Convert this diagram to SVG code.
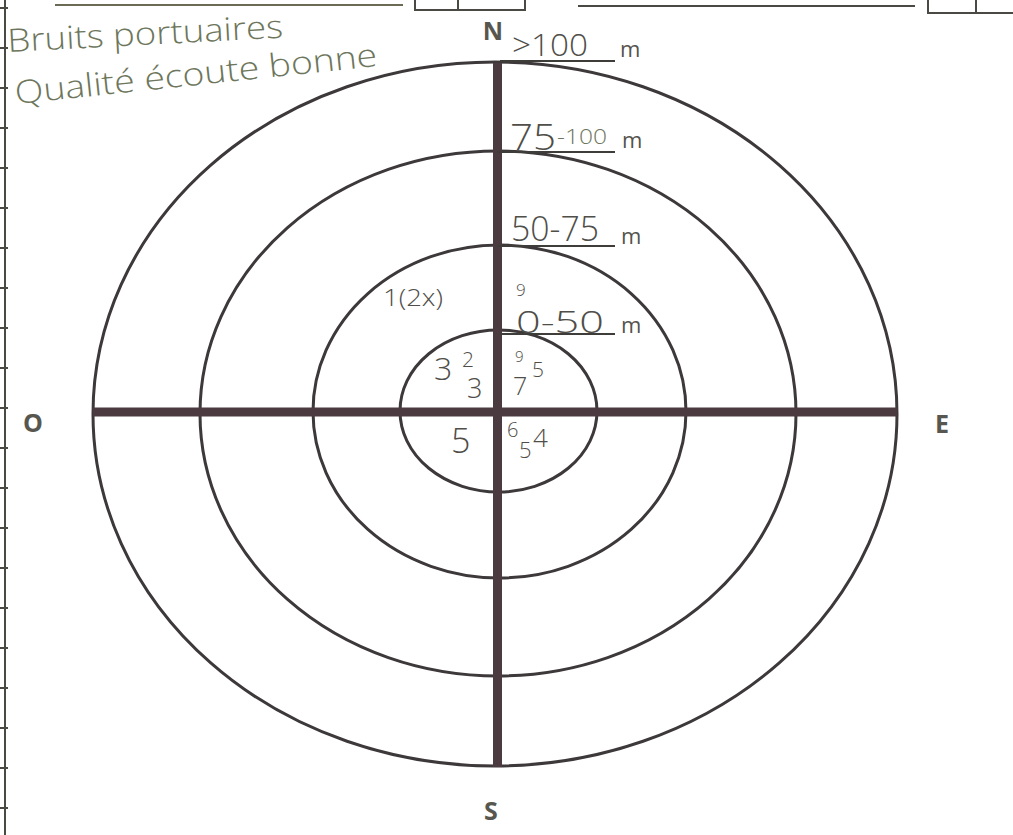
<svg xmlns="http://www.w3.org/2000/svg" width="1013" height="835" viewBox="0 0 1013 835">
<style>
.ring{fill:none;stroke:#3d3839;stroke-width:3}
.axis{stroke:#4b3a3f;stroke-width:9;fill:none}
.rule{stroke:#3f3d3a;stroke-width:2;fill:none}
.frame{stroke:#4a4944;stroke-width:2;fill:none}
.dir{font-family:"Open Sans","Liberation Sans",sans-serif;font-weight:bold;font-size:25px;fill:#58574f}
.unit{font-family:"Open Sans","Liberation Sans",sans-serif;font-size:22px;fill:#55544e}
.hand{font-family:"Open Sans","DejaVu Sans",sans-serif;fill:#4f4e49;font-weight:300}
.green{font-family:"Open Sans","DejaVu Sans",sans-serif;fill:#6d765c;font-weight:300}
</style>
<rect width="1013" height="835" fill="#ffffff"/>
<g id="frame">
<line class="frame" x1="5" y1="0" x2="5" y2="835"/>
<path class="frame" d="M0 8H8M0 48H8M0 88H8M0 128H8M0 168H8M0 208H8M0 248H8M0 288H8M0 328H8M0 368H8M0 408H8M0 448H8M0 488H8M0 528H8M0 568H8M0 608H8M0 648H8M0 688H8M0 728H8M0 768H8M0 808H8"/>
<line x1="55" y1="5" x2="403" y2="5" stroke="#6b6a55" stroke-width="2"/>
<path class="frame" d="M415 0V10H525V0M458 0V10"/>
<line class="frame" x1="578" y1="6" x2="915" y2="6"/>
<path class="frame" d="M928 0V13H1013M976 0V13"/>
</g>
<g id="rings">
<ellipse class="ring" cx="495" cy="414" rx="402" ry="352"/>
<ellipse class="ring" cx="498" cy="413.5" rx="298" ry="262.5"/>
<ellipse class="ring" cx="499.5" cy="411.5" rx="186.5" ry="166.5"/>
<ellipse class="ring" cx="498.5" cy="411" rx="98.5" ry="81"/>
</g>
<g id="connectors">
<line class="axis" x1="93" y1="412" x2="897" y2="412"/>
<line class="axis" x1="497.5" y1="63" x2="497.5" y2="767"/>
</g>
<g id="directions">
<text class="dir" x="493" y="40" text-anchor="middle">N</text>
<text class="dir" x="33" y="432" text-anchor="middle">O</text>
<text class="dir" x="942" y="433" text-anchor="middle">E</text>
<text class="dir" x="491" y="820" text-anchor="middle">S</text>
</g>
<g id="zone-labels">
<line class="rule" x1="500" y1="61" x2="615" y2="61"/>
<text class="hand" x="512" y="56" font-size="32" textLength="76" lengthAdjust="spacingAndGlyphs">&gt;100</text>
<text class="unit" x="620" y="57">m</text>
<line class="rule" x1="497" y1="152" x2="615" y2="152"/>
<text class="hand" x="510" y="150" font-size="36" textLength="46" lengthAdjust="spacingAndGlyphs">75</text>
<text class="green" x="557" y="144" font-size="20" textLength="50" lengthAdjust="spacingAndGlyphs">-100</text>
<text class="unit" x="622" y="148">m</text>
<line class="rule" x1="497" y1="246" x2="615" y2="246"/>
<text class="hand" x="511" y="241" font-size="34" textLength="88" lengthAdjust="spacingAndGlyphs">50-75</text>
<text class="unit" x="621" y="244">m</text>
<line class="rule" x1="500" y1="334" x2="615" y2="334"/>
<text class="hand" x="516" y="296" font-size="17">9</text>
<text class="hand" x="516" y="333" font-size="31" textLength="88" lengthAdjust="spacingAndGlyphs">0-50</text>
<text class="unit" x="621" y="333">m</text>
</g>
<g id="notes">
<text class="green" x="8" y="52" font-size="32" textLength="276" lengthAdjust="spacingAndGlyphs" transform="rotate(-3 8 52)">Bruits portuaires</text>
<text class="green" x="16" y="104" font-size="32" textLength="364" lengthAdjust="spacingAndGlyphs" transform="rotate(-6 16 104)">Qualité écoute bonne</text>
<text class="hand" x="383" y="306" font-size="24" textLength="60" lengthAdjust="spacingAndGlyphs">1(2x)</text>
<text class="hand" x="434" y="380" font-size="32">3</text>
<text class="hand" x="462" y="367" font-size="21">2</text>
<text class="hand" x="467" y="398" font-size="27">3</text>
<text class="hand" x="515" y="362" font-size="15">9</text>
<text class="hand" x="532" y="377" font-size="21">5</text>
<text class="hand" x="513" y="395" font-size="25">7</text>
<text class="hand" x="451" y="453" font-size="34">5</text>
<text class="hand" x="507" y="437" font-size="20">6</text>
<text class="hand" x="519" y="458" font-size="22">5</text>
<text class="hand" x="533" y="447" font-size="26">4</text>
</g>
</svg>
